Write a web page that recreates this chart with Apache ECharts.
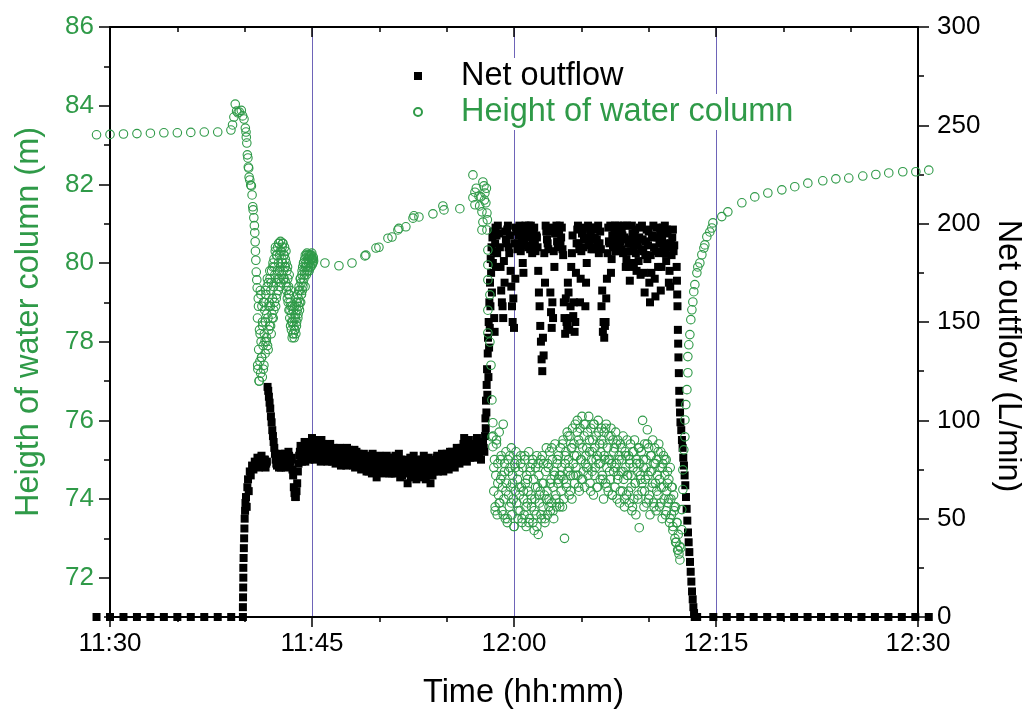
<!DOCTYPE html>
<html>
<head>
<meta charset="utf-8">
<script src="https://cdn.jsdelivr.net/npm/echarts@6/dist/echarts.min.js"></script>
<style>
html,body{margin:0;padding:0;background:#fff;}
#chart{width:1022px;height:711px;}
</style>
</head>
<body>
<div id="chart"></div>
<script>
// ---------- DATA (time in minutes after 11:30) ----------
const timeTickLabels = ['11:30', '11:45', '12:00', '12:15', '12:30'];
const leftTickValues = [72, 74, 76, 78, 80, 82, 84, 86];
const leftMinorTickValues = [71, 73, 75, 77, 79, 81, 83, 85];

// Net outflow (L/min)
const outflowBefore = [[-1,0],[0,0],[1,0],[2,0],[3,0],[4,0],[5,0],[6,0],[7,0],[8,0],[9,0]];
const outflowRise = [[9.87,0],[9.87,5],[9.88,10],[9.89,15],[9.9,20],[9.9,25],[9.92,30],[9.94,35],[9.96,40],[9.98,45],[10.0,50],[10.03,54],[10.06,58],[10.1,61],[10.15,56],[10.2,66],[10.25,70],[10.3,64],[10.38,74],[10.45,72],[10.55,77],[10.65,75],[10.75,79],[10.85,78]];
const plateauStart = 10.9, plateauStep = 0.1;
const outflowPlateau = [
 78,80,77,81,79,77,80,78,117,112,
 106,99,92,86,80,77,82,79,76,81,
 78,83,80,77,82,79,81,72,63,61,
 68,78,84,81,86,82,79,85,83,80,
 86,91,83,80,87,84,81,89,90,82,
 85,80,83,87,81,84,79,86,82,80,
 84,79,82,85,78,83,80,86,79,81,
 78,83,80,76,84,79,77,82,78,80,
 76,81,78,74,80,77,83,75,79,71,
 78,82,76,79,74,80,77,75,81,76,
 73,79,76,82,74,78,75,80,72,77,
 75,79,68,76,81,74,78,72,77,80,
 74,78,71,76,82,75,79,73,77,68,
 76,80,74,78,82,75,79,77,81,76,
 79,83,77,81,78,84,80,76,82,79,
 83,80,86,81,91,84,79,85,82,87,
 83,86,81,88,84,82,87,85,89,84
];
const plateau2Start = 10.95, plateau2Step = 0.1;
const outflowPlateau2 = [
 81,76,79,82,77,80,76,79,115,109,
 102,95,89,83,78,81,76,83,79,77,
 81,76,79,84,77,80,75,66,61,64,
 74,82,87,79,83,89,84,81,87,85,
 82,88,85,90,81,86,83,79,85,88,
 81,86,79,84,88,80,85,83,78,84,
 81,86,77,80,84,82,77,83,85,78,
 82,77,85,80,78,83,81,75,80,83,
 79,74,82,77,81,73,79,81,76,80,
 74,79,81,73,78,76,82,79,73,79,
 77,81,73,79,76,83,71,78,76,74,
 80,73,77,79,71,76,82,75,70,78,
 76,72,80,74,78,70,76,81,74,79,
 72,78,77,81,74,79,76,83,74,80,
 77,81,75,84,80,78,82,79,86,81,
 78,85,82,88,80,86,83,90,81,85,
 88,82,85,91,83,86,80,88,86
];
const outflowTransition = [[27.85,92],[27.88,101],[27.9,96],[27.92,110],[27.95,104],[27.97,118],[28.0,126],[28.02,113],[28.05,134],[28.07,142],[28.1,122],[28.12,150],[28.15,137],[28.17,160],[28.2,147],[28.22,170],[28.25,158],[28.27,182],[28.3,175],[28.33,188],[28.36,165],[28.4,193],[28.43,180],[28.46,196],[28.5,186],[28.53,152],[28.56,145],[28.6,190],[28.63,198],[28.66,178],[28.7,194],[28.75,185],[28.8,199]];
const highStart = 28.9, highStep = 0.1;
const outflowHigh = [
 195,178,160,152,170,192,197,188,194,168,
 150,147,172,196,190,199,186,193,175,197,
 189,195,199,187,194,191,198,186,193,176,
 158,140,125,133,170,196,190,198,165,147,
 152,178,197,191,188,199,193,187,160,144,
 150,170,146,158,185,153,145,175,197,190,
 160,186,196,192,158,180,199,189,194,198,
 187,193,197,190,185,196,158,145,142,150,
 172,198,190,175,194,188,199,192,186,196,
 191,197,185,193,178,199,190,171,186,195,
 180,197,176,189,193,174,199,186,165,191,
 182,196,160,175,194,188,163,198,178,190,
 166,193,187,199,181,195,170,168,184,197,
 189
];
const high2Start = 28.95, high2Step = 0.1;
const outflowHigh2 = [
 188,166,158,181,196,190,199,185,176,158,
 162,190,198,187,194,196,189,180,192,199,
 193,188,196,199,185,197,190,194,188,165,
 148,131,142,185,199,192,187,196,155,160,
 186,195,199,189,196,190,198,184,152,162,
 148,165,152,178,194,160,150,190,199,187,
 172,195,188,198,170,193,191,197,187,192,
 198,188,192,199,190,187,166,150,148,162,
 185,191,199,182,189,197,186,195,199,190,
 187,194,199,186,182,192,178,191,199,188,
 194,185,191,181,198,187,192,175,184,197,
 189,170,184,193,199,172,186,193,185,196,
 178,198,190,185,197,188,176,190,193,186
];
const outflowDecline = [[42.08,178],[42.1,171],[42.12,164],[42.14,158],[42.17,146],[42.19,139],[42.21,132],[42.24,124],[42.27,115],[42.3,109],[42.33,104],[42.36,99],[42.42,95],[42.47,90],[42.52,86],[42.57,81],[42.62,77],[42.67,72],[42.72,67],[42.77,61],[42.82,55],[42.87,49],[42.92,43],[42.97,38],[43.02,33],[43.07,28],[43.12,23],[43.17,18],[43.22,13],[43.27,9],[43.32,5],[43.37,2],[43.42,0],[43.47,0]];
const outflowAfter = [[43.6,0],[44.8,0],[45.8,0],[46.8,0],[47.8,0],[48.8,0],[49.8,0],[50.8,0],[51.8,0],[52.8,0],[53.8,0],[54.8,0],[55.8,0],[56.8,0],[57.8,0],[58.8,0],[59.8,0],[60.8,0]];

// Height of water column (m)
const heightBefore = [[-1,83.26],[0,83.27],[1,83.28],[2,83.29],[3,83.3],[4,83.31],[5,83.31],[6,83.32],[7,83.33],[8,83.33]];
const heightDrop = [[8.98,83.38],[9.1,83.51],[9.2,83.71],[9.3,84.04],[9.4,83.86],[9.5,83.82],[9.6,83.84],[9.75,83.88],[9.85,83.74],[9.95,83.66],[10.05,83.43],[10.1,83.33],[10.12,83.2],[10.16,83.05],[10.2,82.75],[10.24,82.67],[10.27,82.44],[10.3,82.41],[10.33,82.18],[10.38,82.11],[10.45,81.98],[10.5,81.96],[10.55,81.73],[10.6,81.43],[10.63,81.35],[10.68,81.15],[10.72,80.95],[10.75,80.77],[10.78,80.54],[10.8,80.3],[10.83,80.07],[10.86,79.77],[10.9,79.57],[10.93,79.37]];
const cloud1Start = 10.95, cloud1Step = 0.03;
const heightCloud1 = [
 78.6,77.3,79.1,77.8,77.0,78.3,77.5,79.3,77.2,78.0,
 77.6,78.9,77.1,78.4,77.9,79.0,77.4,78.2,78.8,77.7,
 78.5,79.2,78.0,78.7,79.4,77.9,78.6,79.5,78.3,79.0,
 78.4,79.6,78.9,79.3,78.2,79.8,78.7,79.1,79.9,78.6,
 79.4,80.1,79.0,79.7,80.3,78.9,79.5,80.2,79.2,79.8,
 80.4,79.3,80.0,80.5,79.6,80.2,79.4,80.55,79.9,80.3,
 79.7,80.4,80.0,80.5,79.8,80.2,79.6,80.4,79.9,80.1,
 79.5,80.0,79.3,79.8,79.1,79.6,79.0,79.4,78.8,79.2,
 78.6,79.0,78.4,78.9,78.3,78.7,78.1,78.5,78.2,78.8,
 78.4,78.1,78.9,78.3,78.6,78.2,79.0,78.5,78.8,79.2,
 78.6,79.1,78.9,79.4,78.8,79.3,79.6,79.0,79.5,79.2,
 79.7,79.3,79.9,79.5,80.0,79.6,79.8,80.1,79.4,79.9,
 80.0,79.7,80.2,79.8,80.1,79.9,80.2,80.0,79.8,80.15,
 80.05,80.2,79.9,80.1,80.2,79.95,80.1,80.0,80.15,80.05
];
const cloud1bStart = 10.965, cloud1bStep = 0.06;
const heightCloud1b = [
 77.4,78.9,77.0,78.2,79.2,77.6,78.5,77.3,79.0,78.0,
 79.3,78.1,79.6,77.8,78.9,79.8,78.4,79.5,78.6,80.0,
 78.8,79.9,80.4,79.1,80.2,79.6,80.5,79.8,80.3,79.5,
 80.1,80.5,79.6,80.2,79.9,80.3,79.4,79.9,79.2,79.7,
 78.8,79.3,78.5,78.9,78.2,78.6,78.3,78.7,78.4,79.0,
 78.7,79.3,79.0,79.6,79.2,79.8,79.4,80.0,79.7,80.2,
 79.9,80.25,79.8,80.1,80.2,79.9,80.1,80.25,80.0,80.1
];
const heightSparse = [[15.96,80.0],[17.0,79.93],[17.97,80.0],[18.93,80.18],[19.0,80.2],[19.75,80.38],[19.97,80.4],[20.64,80.63],[20.94,80.66],[21.38,80.84],[21.45,80.88],[21.97,80.92],[22.5,81.14],[22.57,81.2],[22.94,81.17],[23.98,81.25],[24.72,81.45],[24.8,81.35],[25.98,81.38]];
const heightSpike = [[26.95,82.24],[26.95,81.66],[27.1,81.8],[27.1,81.48],[27.2,81.9],[27.4,81.7],[27.45,81.45],[27.54,81.68],[27.62,81.3],[27.62,80.84],[27.69,82.06],[27.69,81.04],[27.77,81.96],[27.8,81.6],[27.84,81.78],[27.91,81.53],[27.95,81.9],[27.99,81.27],[27.99,80.84],[28.02,81.1],[28.06,80.33],[28.06,79.95],[28.06,79.57],[28.21,79.19],[28.06,78.8],[28.06,78.22],[28.21,77.99],[28.29,77.4],[28.36,76.52],[28.43,75.94],[28.36,75.58],[28.43,75.33]];
const cloud2Start = 28.45, cloud2Step = 0.05;
const heightCloud2 = [
 75.6,74.2,75.0,73.8,74.6,75.4,73.6,74.9,74.1,75.7,73.9,74.5,75.1,73.7,74.3,75.9,74.0,74.7,73.5,75.2,
 74.4,73.4,75.0,74.1,73.8,74.8,74.3,75.3,73.6,74.6,74.0,73.3,74.9,74.2,75.2,73.9,74.5,73.5,74.7,74.1,
 73.7,75.1,74.3,73.4,74.8,74.0,73.6,75.0,74.4,73.3,74.6,73.9,74.2,75.2,73.5,74.7,74.1,73.8,74.9,73.4,
 74.5,73.2,74.0,74.8,73.6,75.1,74.3,73.1,74.6,73.9,74.2,75.0,73.5,74.4,73.8,74.9,74.1,73.4,74.7,75.3,
 74.2,73.6,74.8,74.0,75.2,73.7,74.5,73.9,75.0,74.3,73.5,74.7,75.4,74.1,73.8,74.9,74.4,75.1,73.9,74.6,
 75.3,74.2,74.8,73.8,75.5,74.5,73.0,74.9,75.2,74.3,75.7,74.7,75.0,74.1,75.6,74.6,75.3,74.0,75.8,74.9,
 75.4,74.4,75.9,74.8,75.1,76.0,74.6,75.5,74.2,75.8,75.0,74.5,76.1,75.3,74.7,75.6,74.3,75.9,75.1,74.8,
 75.7,74.6,76.1,75.2,74.4,75.8,75.0,74.7,75.5,74.1,75.9,75.3,74.8,75.6,74.3,75.1,76.0,74.9,75.4,74.5,
 75.2,75.8,74.6,75.4,74.0,75.7,75.0,74.4,75.9,74.8,75.3,74.2,75.6,75.0,74.5,75.8,74.9,74.1,75.5,74.7,
 75.3,74.3,75.7,74.9,74.0,75.5,74.6,75.1,73.9,75.4,74.7,75.0,74.2,75.6,74.5,73.8,75.2,74.8,74.1,75.5,
 74.6,75.1,73.9,74.9,75.4,74.3,73.7,75.2,74.8,74.0,75.5,74.4,73.6,75.0,74.7,74.1,75.3,73.27,74.9,74.5,
 75.2,74.2,76.0,74.8,73.8,75.4,74.5,75.0,73.9,75.76,74.6,75.3,74.1,73.6,75.1,74.7,74.3,75.5,73.9,74.9,
 75.3,74.4,73.7,75.0,74.6,74.1,75.4,73.8,74.8,75.2,74.3,73.5,74.9,75.1,74.0,74.6,73.6,75.0,74.2,74.7,
 73.9,74.5,73.4,74.8,74.0,73.6,74.3,73.2,74.1,73.7,73.0,73.8,72.9,73.4,72.7,73.1,72.6,72.8
];
const cloud2bStart = 28.5, cloud2bStep = 0.1;
const heightCloud2b = [
 74.8,73.7,75.5,74.4,73.9,75.0,74.6,73.6,74.9,74.2,
 73.5,74.7,75.1,73.9,74.4,73.3,74.8,75.0,73.7,74.3,
 74.9,73.5,74.2,75.1,73.8,74.5,73.4,74.8,74.0,75.0,
 73.7,74.3,73.3,74.9,74.1,73.6,75.1,74.4,73.5,74.0,
 74.9,73.8,74.4,75.3,73.7,74.6,74.0,75.0,74.5,73.8,
 74.6,75.4,74.0,75.1,74.4,75.6,74.8,74.2,75.3,74.6,
 75.1,74.6,75.7,74.3,75.4,75.0,74.5,75.9,74.9,75.3,
 74.8,75.5,74.2,75.2,75.9,74.6,75.0,74.3,75.7,74.9,
 75.5,74.5,75.1,75.8,74.3,75.0,74.7,75.6,74.1,75.2,
 74.8,75.4,74.5,75.0,74.2,75.3,74.7,74.0,75.1,74.6,
 74.2,75.0,74.6,73.8,75.2,74.4,74.9,74.0,75.3,74.6,
 74.4,75.0,74.2,74.8,75.4,74.0,74.7,75.1,74.4,73.8,
 74.9,74.2,75.2,74.5,73.9,74.8,74.3,75.0,73.7,74.4,
 74.0,73.5,74.3,73.3,73.8,72.9,73.4,72.7
];
const heightRise = [[42.32,72.45],[42.39,72.76],[42.46,73.22],[42.46,73.73],[42.54,74.24],[42.54,74.74],[42.61,75.25],[42.69,75.58],[42.69,76.01],[42.76,76.4],[42.84,76.78],[42.91,77.21],[42.91,77.62],[42.98,77.92],[43.06,78.18],[43.13,78.56],[43.21,78.81],[43.28,79.01],[43.35,79.27],[43.43,79.45],[43.58,79.75],[43.65,79.9],[43.8,80.0],[43.95,80.21],[44.1,80.38],[44.17,80.46],[44.32,80.67],[44.54,80.79],[44.69,80.89],[44.77,81.02]];
const heightAfter = [[45.43,81.18],[45.88,81.3],[46.92,81.53],[47.88,81.68],[48.85,81.78],[49.89,81.86],[50.85,81.94],[51.82,82.03],[52.93,82.09],[53.9,82.14],[54.86,82.16],[55.9,82.21],[56.87,82.25],[57.83,82.29],[58.87,82.32],[59.84,82.32],[60.8,82.36]];

// ---------- BUILD ----------
function sampled(start, step, values) {
  return values.map((v, i) => [+(start + i * step).toFixed(3), v]);
}
const outflowData = [].concat(outflowBefore, outflowRise,
  sampled(plateauStart, plateauStep, outflowPlateau), sampled(plateau2Start, plateau2Step, outflowPlateau2),
  outflowTransition,
  sampled(highStart, highStep, outflowHigh), sampled(high2Start, high2Step, outflowHigh2),
  outflowDecline, outflowAfter);
const heightData = [].concat(heightBefore, heightDrop,
  sampled(cloud1Start, cloud1Step, heightCloud1), sampled(cloud1bStart, cloud1bStep, heightCloud1b),
  heightSparse, heightSpike,
  sampled(cloud2Start, cloud2Step, heightCloud2), sampled(cloud2bStart, cloud2bStep, heightCloud2b),
  heightRise, heightAfter);

const GREEN = '#2f9a48';
const FONT = '"Liberation Sans", Arial, sans-serif';
const axisLineStyle = {color: '#000', width: 2};
const tickStyle = {color: '#000', width: 1.5};

const chart = echarts.init(document.getElementById('chart'), null, {renderer: 'canvas'});
chart.setOption({
  animation: false,
  backgroundColor: '#fff',
  textStyle: {fontFamily: FONT},
  grid: {left: 110, right: 104, top: 27, bottom: 94, containLabel: false, outerBoundsMode: 'none'},
  legend: {
    orient: 'vertical',
    left: 408,
    top: 53,
    itemWidth: 8,
    itemHeight: 8,
    itemGap: 0,
    textStyle: {fontSize: 32.5, fontFamily: FONT, lineHeight: 36, backgroundColor: '#fff', padding: [0, 4, 0, 34]},
    data: [
      {name: 'Net outflow', icon: 'rect', textStyle: {color: '#000'}},
      {name: 'Height of water column', icon: 'circle', textStyle: {color: GREEN}}
    ]
  },
  xAxis: [
    {
      type: 'value', min: 0, max: 60, interval: 15, position: 'bottom',
      axisLine: {show: true, onZero: false, lineStyle: axisLineStyle},
      axisTick: {show: true, inside: false, length: 10, lineStyle: tickStyle},
      minorTick: {show: true, splitNumber: 3, length: 5, lineStyle: tickStyle},
      axisLabel: {fontSize: 26, color: '#000', margin: 14, fontFamily: FONT,
        formatter: v => timeTickLabels[Math.round(v / 15)]},
      splitLine: {show: true, lineStyle: {color: '#6e64b8', width: 1}},
      name: 'Time (hh:mm)', nameLocation: 'middle', nameGap: 60,
      nameTextStyle: {fontSize: 32.5, color: '#000', fontFamily: FONT, padding: [0, 0, 0, 19]}
    },
    {
      type: 'value', min: 0, max: 60, interval: 15, position: 'top',
      axisLine: {show: true, onZero: false, lineStyle: axisLineStyle},
      axisTick: {show: true, inside: true, length: 10, lineStyle: tickStyle},
      minorTick: {show: true, splitNumber: 3, length: 5, lineStyle: tickStyle},
      axisLabel: {show: false},
      splitLine: {show: false}
    }
  ],
  yAxis: [
    {
      type: 'value', min: 71, max: 86, position: 'left',
      axisLine: {show: true, onZero: false, lineStyle: axisLineStyle},
      axisTick: {show: true, length: 11, customValues: leftTickValues, lineStyle: tickStyle},
      axisLabel: {customValues: leftTickValues, fontSize: 26, color: GREEN, margin: 16, fontFamily: FONT},
      splitLine: {show: false},
      name: 'Heigth of water column (m)', nameLocation: 'middle', nameGap: 64,
      nameTextStyle: {fontSize: 32.5, color: GREEN, fontFamily: FONT}
    },
    {
      type: 'value', min: 0, max: 300, interval: 50, position: 'right',
      axisLine: {show: true, onZero: false, lineStyle: axisLineStyle},
      axisTick: {show: true, length: 11, lineStyle: tickStyle},
      minorTick: {show: true, splitNumber: 2, length: 6, lineStyle: tickStyle},
      axisLabel: {fontSize: 26, color: '#000', margin: 19, fontFamily: FONT},
      splitLine: {show: false},
      name: 'Net outflow (L/min)', nameLocation: 'middle', nameGap: 62, nameRotate: -90,
      nameTextStyle: {fontSize: 32.5, color: '#000', fontFamily: FONT, padding: [0, 0, 0, 68]}
    },
    {
      type: 'value', min: 71, max: 86, position: 'left',
      axisLine: {show: false},
      axisTick: {show: true, length: 6, customValues: leftMinorTickValues, lineStyle: tickStyle},
      axisLabel: {show: false},
      splitLine: {show: false}
    }
  ],
  series: [
    {
      name: 'Net outflow', type: 'scatter', xAxisIndex: 0, yAxisIndex: 1,
      symbol: 'rect', symbolSize: 8, clip: false,
      itemStyle: {color: '#000', opacity: 1},
      data: outflowData
    },
    {
      name: 'Height of water column', type: 'scatter', xAxisIndex: 0, yAxisIndex: 0,
      symbol: 'circle', symbolSize: 8.5, clip: false,
      itemStyle: {color: 'rgba(255,255,255,0)', borderColor: GREEN, borderWidth: 1.1, opacity: 1},
      data: heightData
    }
  ]
});
</script>
</body>
</html>
